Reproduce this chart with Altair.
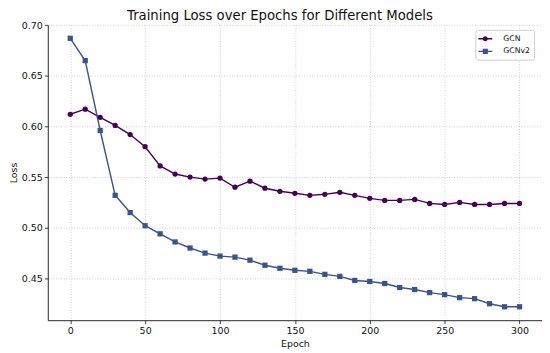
import altair as alt
import pandas as pd

epochs = list(range(0, 301, 10))
gcn = [0.612, 0.617, 0.609, 0.601, 0.592, 0.580, 0.561, 0.553, 0.550, 0.548,
       0.549, 0.540, 0.546, 0.539, 0.536, 0.534, 0.532, 0.533, 0.535, 0.532,
       0.529, 0.527, 0.527, 0.528, 0.524, 0.523, 0.525, 0.523, 0.523, 0.524,
       0.524]
gcnv2 = [0.687, 0.665, 0.596, 0.532, 0.515, 0.502, 0.494, 0.486, 0.480, 0.475,
         0.472, 0.471, 0.468, 0.463, 0.460, 0.458, 0.457, 0.454, 0.452, 0.448,
         0.447, 0.445, 0.441, 0.439, 0.436, 0.434, 0.431, 0.430, 0.425, 0.422,
         0.422]
models = ["GCN", "GCNv2"]
colors = ["#440154", "#3b528b"]
x_ticks = [0, 50, 100, 150, 200, 250, 300]
y_ticks = [0.45, 0.50, 0.55, 0.60, 0.65, 0.70]

df = pd.DataFrame(
    [{"Epoch": e, "Loss": v, "Model": "GCN"} for e, v in zip(epochs, gcn)]
    + [{"Epoch": e, "Loss": v, "Model": "GCNv2"} for e, v in zip(epochs, gcnv2)]
)

xs = alt.Scale(domain=[-15, 315], nice=False, zero=False)
ys = alt.Scale(domain=[0.40875, 0.70025], nice=False, zero=False)
cs = alt.Scale(domain=models, range=colors)

X = alt.X("Epoch:Q", scale=xs, title="Epoch", axis=alt.Axis(values=x_ticks))
Y = alt.Y("Loss:Q", scale=ys, title="Loss", axis=alt.Axis(values=y_ticks, format=".2f"))
C = alt.Color("Model:N", scale=cs, legend=alt.Legend(title=None))

base = alt.Chart(df)

line_seg = "M-1.4,-0.14H1.4V0.14H-1.4Z "
leg_shapes = [
    line_seg + "M0.5,0A0.5,0.5 0 1,1 -0.5,0A0.5,0.5 0 1,1 0.5,0Z",
    line_seg + "M-0.52,-0.52H0.52V0.52H-0.52Z",
]
legend_layer = base.transform_filter("false").mark_point(
    filled=True, size=100, opacity=1, strokeWidth=0
).encode(
    x=X, y=Y, color=C,
    shape=alt.Shape("Model:N", scale=alt.Scale(domain=models, range=leg_shapes),
                    legend=alt.Legend(title=None)),
)

lines = base.mark_line(strokeWidth=1.4).encode(x=X, y=Y, color=C, detail="Model:N")
circles = base.transform_filter(alt.datum.Model == "GCN").mark_point(
    filled=True, size=28, opacity=1, shape="circle"
).encode(x=X, y=Y, color=C)
squares = base.transform_filter(alt.datum.Model == "GCNv2").mark_point(
    filled=True, size=28, opacity=1, shape="square"
).encode(x=X, y=Y, color=C)

chart = alt.layer(legend_layer, lines, circles, squares).properties(
    width=497, height=297,
    padding=0,
    title=alt.TitleParams(
        "Training Loss over Epochs for Different Models",
        fontSize=13.3, font="DejaVu Sans", fontWeight="normal", color="#111",
        anchor="middle", frame="group", dx=-15, offset=-2.5,
    ),
).configure_view(stroke=None).configure_axis(
    labelFont="DejaVu Sans", labelFontSize=9.5, labelColor="#111",
    titleFont="DejaVu Sans", titleFontSize=9.5, titleFontWeight="normal", titleColor="#111",
    domainColor="#111", domainWidth=0.9, tickColor="#111", tickSize=3.5, tickWidth=0.8,
    labelPadding=2, titlePadding=3,
    grid=True, gridColor="#c4c4c4", gridDash=[1, 1.6], gridWidth=0.8,
).configure_legend(
    orient="none", legendX=430, legendY=5,
    labelFont="DejaVu Sans", labelFontSize=7.8, labelColor="#111",
    strokeColor="#d0d0d0", fillColor="#ffffff", cornerRadius=2, padding=4,
    symbolStrokeWidth=0, labelOffset=13, rowPadding=3.7, symbolOffset=1,
)

chart.save("out.html", embed_options={"renderer": "svg", "actions": False})
